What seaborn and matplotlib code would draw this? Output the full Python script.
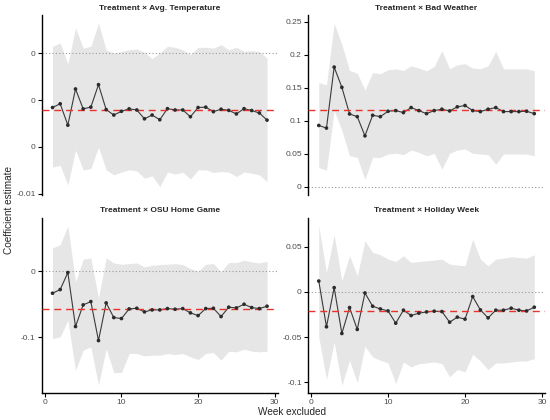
import numpy as np
import pandas as pd
import matplotlib
matplotlib.use("Agg")
import matplotlib.pyplot as plt
import seaborn as sns


# Data (week left out -> estimate and 95% band)
weeks = list(range(1, 30))

titles = [
    "Treatment \u00d7 Avg. Temperature",
    "Treatment \u00d7 Bad Weather",
    "Treatment \u00d7 OSU Home Game",
    "Treatment \u00d7 Holiday Week",
]

temp_est = [-0.00290, -0.00270, -0.00384, -0.00191, -0.00297, -0.00288, -0.00168,
            -0.00301, -0.00330, -0.00310, -0.00297, -0.00303, -0.00350, -0.00330,
            -0.00355, -0.00296, -0.00303, -0.00303, -0.00339, -0.00290, -0.00288,
            -0.00312, -0.00299, -0.00305, -0.00324, -0.00296, -0.00306, -0.00319,
            -0.00357]
temp_hi = [0.00036, 0.00054, -0.00058, 0.00135, 0.00027, 0.00036, 0.00159,
           0.00018, 0.00000, 0.00009, 0.00018, 0.00022, 0.00004, -0.00029,
           0.00000, 0.00036, 0.00031, 0.00018, -0.00009, 0.00031, 0.00031,
           0.00027, 0.00045, 0.00018, 0.00032, 0.00009, 0.00013, 0.00009,
           -0.00027]
temp_lo = [-0.00607, -0.00598, -0.00703, -0.00517, -0.00622, -0.00616, -0.00501,
           -0.00622, -0.00649, -0.00634, -0.00622, -0.00627, -0.00667, -0.00654,
           -0.00712, -0.00634, -0.00645, -0.00634, -0.00671, -0.00622, -0.00622,
           -0.00636, -0.00631, -0.00634, -0.00658, -0.00634, -0.00640, -0.00649,
           -0.00685]
temp_full = -0.00305

weather_est = [0.0930, 0.0890, 0.1815, 0.1508, 0.1104, 0.1063, 0.0772, 0.1084,
               0.1063, 0.1145, 0.1155, 0.1125, 0.1201, 0.1155, 0.1109, 0.1155,
               0.1176, 0.1150, 0.1212, 0.1232, 0.1155, 0.1140, 0.1176, 0.1201,
               0.1140, 0.1140, 0.1140, 0.1145, 0.1109]
weather_hi = [0.1580, 0.1544, 0.2480, 0.2157, 0.1764, 0.1723, 0.1467, 0.1733,
              0.1713, 0.1774, 0.1789, 0.1764, 0.1835, 0.1800, 0.1759, 0.1825,
              0.2065, 0.1789, 0.1850, 0.1866, 0.1800, 0.1789, 0.1835, 0.2055,
              0.1789, 0.1789, 0.1789, 0.1789, 0.1759]
weather_lo = [0.0291, 0.0250, 0.1160, 0.0854, 0.0470, 0.0445, 0.0112, 0.0445,
              0.0445, 0.0496, 0.0506, 0.0486, 0.0557, 0.0521, 0.0470, 0.0506,
              0.0266, 0.0506, 0.0557, 0.0573, 0.0506, 0.0496, 0.0486, 0.0343,
              0.0496, 0.0496, 0.0496, 0.0496, 0.0470]
weather_full = 0.116

osu_est = [-0.0333, -0.0278, -0.0020, -0.0838, -0.0510, -0.0460, -0.1051, -0.0480,
           -0.0702, -0.0717, -0.0571, -0.0561, -0.0616, -0.0586, -0.0586, -0.0566,
           -0.0576, -0.0566, -0.0631, -0.0672, -0.0566, -0.0561, -0.0687, -0.0545,
           -0.0556, -0.0500, -0.0551, -0.0566, -0.0530]
osu_hi = [0.0354, 0.0404, 0.0687, -0.0162, 0.0182, 0.0202, -0.0404, 0.0202,
          0.0126, 0.0106, 0.0116, 0.0126, 0.0066, 0.0091, 0.0101, 0.0106,
          0.0116, 0.0101, 0.0040, 0.0000, 0.0106, 0.0116, -0.0010, 0.0131,
          0.0131, 0.0167, 0.0141, 0.0126, 0.0152]
osu_lo = [-0.1020, -0.0995, -0.0742, -0.1500, -0.1197, -0.1146, -0.1727, -0.1172,
          -0.1535, -0.1535, -0.1247, -0.1247, -0.1283, -0.1273, -0.1273, -0.1247,
          -0.1263, -0.1247, -0.1298, -0.1338, -0.1247, -0.1232, -0.1348, -0.1212,
          -0.1222, -0.1182, -0.1212, -0.1222, -0.1212]
osu_full = -0.0571

holiday_est = [0.0121, -0.0386, 0.0048, -0.0460, -0.0173, -0.0415, -0.0011, -0.0158,
               -0.0188, -0.0210, -0.0346, -0.0202, -0.0261, -0.0235, -0.0221, -0.0213,
               -0.0217, -0.0335, -0.0279, -0.0301, -0.0051, -0.0199, -0.0287, -0.0202,
               -0.0202, -0.0180, -0.0202, -0.0210, -0.0169]
holiday_hi = [0.0732, 0.0217, 0.0632, 0.0125, 0.0401, 0.0180, 0.0566, 0.0438,
              0.0412, 0.0364, 0.0338, 0.0401, 0.0327, 0.0338, 0.0346, 0.0353,
              0.0364, 0.0309, 0.0298, 0.0290, 0.0585, 0.0364, 0.0290, 0.0364,
              0.0375, 0.0390, 0.0382, 0.0375, 0.0412]
holiday_lo = [-0.0500, -0.0970, -0.0555, -0.1033, -0.0757, -0.1007, -0.0603, -0.0720,
              -0.0757, -0.0787, -0.1015, -0.0776, -0.0831, -0.0794, -0.0787, -0.0776,
              -0.0794, -0.0941, -0.0860, -0.0886, -0.0691, -0.0765, -0.0860, -0.0787,
              -0.0787, -0.0776, -0.0765, -0.0765, -0.0739]
holiday_full = -0.0213

# y tick positions and the (rounded) labels as printed in the original
yticks = [
    [-0.0075, -0.005, -0.0025, 0.0],
    [0.0, 0.05, 0.10, 0.15, 0.20, 0.25],
    [-0.1, 0.0],
    [-0.1, -0.05, 0.0, 0.05],
]
yticklabels = [
    ["-0.01", "0", "0", "0"],
    ["0", "0.05", "0.1", "0.15", "0.2", "0.25"],
    ["-0.1", "0"],
    ["-0.1", "-0.05", "0", "0.05"],
]
xticks = [0, 10, 20, 30]

panels = [
    (temp_est, temp_lo, temp_hi, temp_full),
    (weather_est, weather_lo, weather_hi, weather_full),
    (osu_est, osu_lo, osu_hi, osu_full),
    (holiday_est, holiday_lo, holiday_hi, holiday_full),
]

sns.set_style("white")
plt.rcParams["font.family"] = ["Liberation Sans", "DejaVu Sans"]

fig = plt.figure(figsize=(5.5, 4.2), dpi=100)

# panel boxes in figure fractions [left, bottom, width, height]
boxes = [
    [0.076, 0.536, 0.429, 0.428],
    [0.560, 0.536, 0.431, 0.428],
    [0.076, 0.064, 0.429, 0.417],
    [0.560, 0.064, 0.431, 0.417],
]

for i, (est, lo, hi, full) in enumerate(panels):
    ax = fig.add_axes(boxes[i])
    df = pd.DataFrame({"week": weeks, "est": est, "lo": lo, "hi": hi})

    ax.fill_between(df["week"], df["lo"], df["hi"], color="#e6e6e6", lw=0, zorder=1)
    ax.axhline(0, color="#9a9a9a", lw=0.8, ls=(0, (1, 2)), zorder=2)
    ax.axhline(full, color="#e8322b", lw=1.0, ls=(0, (5, 3.5)), zorder=4)
    sns.lineplot(data=df, x="week", y="est", ax=ax, color="#3a3a3a",
                 lw=0.8, zorder=3)
    sns.scatterplot(data=df, x="week", y="est", ax=ax, color="#2b2b2b",
                    s=7, edgecolor="none", zorder=5)

    # ggplot-like 5% expansion of the data range
    vals = np.concatenate([df["lo"], df["hi"], [0.0, full]])
    pad = (vals.max() - vals.min()) * 0.05
    ax.set_ylim(vals.min() - pad, vals.max() + pad)
    ax.set_xlim(1 - 28 * 0.05, 29 + 28 * 0.05)

    ax.set_yticks(yticks[i])
    ax.set_yticklabels(yticklabels[i])
    ax.set_xlabel("")
    ax.set_ylabel("")
    ax.set_title(titles[i], fontsize=6, fontweight="bold", pad=4)

    for s in ["top", "right"]:
        ax.spines[s].set_visible(False)
    ax.spines["left"].set_color("black")
    ax.spines["left"].set_linewidth(1.0)
    if i < 2:
        ax.spines["bottom"].set_visible(False)
        ax.set_xticks([])
    else:
        ax.spines["bottom"].set_color("black")
        ax.spines["bottom"].set_linewidth(1.0)
        ax.set_xticks(xticks)
        ax.set_xticklabels([str(t) for t in xticks])
    ax.tick_params(axis="both", direction="out", length=3, width=0.8,
                   color="black", labelsize=6, labelcolor="#4d4d4d", pad=1.5,
                   left=True, bottom=(i >= 2))

fig.text(0.531, 0.019, "Week excluded", ha="center", va="center", fontsize=7.2)
fig.text(0.016, 0.5, "Coefficient estimate", ha="center", va="center",
         rotation=90, fontsize=7.2)

fig.savefig("out.png", dpi=100)
plt.close(fig)
